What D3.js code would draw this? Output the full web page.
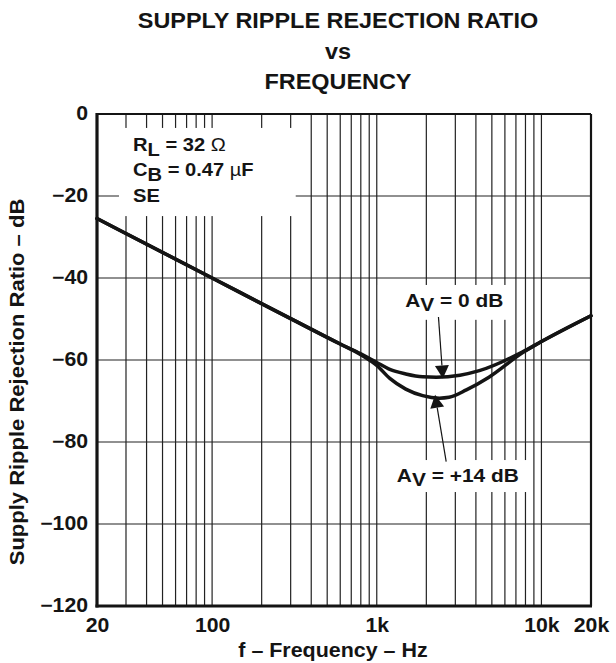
<!DOCTYPE html>
<html>
<head>
<meta charset="utf-8">
<script src="https://cdn.jsdelivr.net/npm/d3@7"></script>
<style>
  body { margin: 0; background: #fff; }
  text { font-family: "Liberation Sans", Arial, Helvetica, sans-serif; font-weight: bold; fill: #141414; }
</style>
</head>
<body>
<svg id="chart" width="616" height="663"></svg>
<script>
// Shared low-frequency part of both curves (Hz, dB)
const freqCommon = [20, 100, 300, 600];
const dbCommon = [-25.5, -40, -49.9, -56.1];

// Av = 0 dB branch
const freqGain0 = [800, 1000, 1200, 1500, 1900, 2300, 3200, 4200, 7700, 10000, 20000];
const dbGain0 = [-58.5, -60.6, -62.3, -63.4, -64.1, -64.2, -63.7, -62.6, -58.0, -55.5, -49.2];

// Av = +14 dB branch
const freqGain14 = [800, 1000, 1200, 1500, 1900, 2400, 2750, 3500, 4800, 7700, 10000, 20000];
const dbGain14 = [-58.7, -61.3, -64.5, -67.1, -68.7, -69.3, -69.1, -67.3, -64.2, -58.2, -55.5, -49.2];

const xTickValues = [20, 100, 1000, 10000, 20000];
const xTickLabels = ["20", "100", "1k", "10k", "20k"];
const yTickValues = [0, -20, -40, -60, -80, -100, -120];

const svg = d3.select("#chart");
const plotLeft = 97, plotRight = 591, plotTop = 114, plotBottom = 606;
const textStretch = 1.1;
const ink = "#141414";

const x = d3.scaleLog().domain([20, 20000]).range([plotLeft, plotRight]);
const y = d3.scaleLinear().domain([0, -120]).range([plotTop, plotBottom]);

// Widen lettering horizontally around each text's anchor point
function widen(sel) {
  sel.each(function () {
    const ax = +(this.getAttribute("x") || 0);
    d3.select(this).attr("transform", `translate(${ax},0) scale(${textStretch},1) translate(${-ax},0)`);
  });
}

// Title
const title = svg.append("g").attr("text-anchor", "middle").style("font-size", "21.3px");
title.append("text").attr("x", 338).attr("y", 28).text("SUPPLY RIPPLE REJECTION RATIO");
title.append("text").attr("x", 338).attr("y", 59).text("vs");
title.append("text").attr("x", 338).attr("y", 89).text("FREQUENCY");
widen(title.selectAll("text"));

// Grid: every log minor line and each 20 dB step
const gridX = x.ticks(30).filter(d => d > 20 && d < 20000);
const grid = svg.append("g").attr("stroke", "#222").attr("stroke-width", 1.2);
grid.selectAll("line.v").data(gridX).join("line")
  .attr("x1", d => x(d)).attr("x2", d => x(d))
  .attr("y1", plotTop).attr("y2", plotBottom);
grid.selectAll("line.h").data(yTickValues.filter(d => d < 0 && d > -120)).join("line")
  .attr("x1", plotLeft).attr("x2", plotRight)
  .attr("y1", d => y(d)).attr("y2", d => y(d));

// White panels behind the annotations
const panels = [
  { f0: 27.2, f1: 322, d0: -3.4, d1: -24.9 },
  { f0: 1016, f1: 6730, d0: -41.7, d1: -50.2 },
  { f0: 1016, f1: 8500, d0: -84.4, d1: -92.2 }
];
svg.append("g").selectAll("rect").data(panels).join("rect")
  .attr("x", d => x(d.f0)).attr("y", d => y(d.d0))
  .attr("width", d => x(d.f1) - x(d.f0)).attr("height", d => y(d.d1) - y(d.d0))
  .attr("fill", "#fff");

// Frame
const frame = svg.append("g").attr("stroke", ink).attr("fill", "none");
frame.append("line").attr("x1", plotLeft).attr("x2", plotRight).attr("y1", plotTop).attr("y2", plotTop).attr("stroke-width", 2.2);
frame.append("line").attr("x1", plotRight).attr("x2", plotRight).attr("y1", plotTop).attr("y2", plotBottom).attr("stroke-width", 2.2);
frame.append("line").attr("x1", plotLeft).attr("x2", plotLeft).attr("y1", plotTop - 1).attr("y2", plotBottom + 1.5).attr("stroke-width", 3.2);
frame.append("line").attr("x1", plotLeft - 1.5).attr("x2", plotRight + 1).attr("y1", plotBottom).attr("y2", plotBottom).attr("stroke-width", 3.2);

// Curves
const line = d3.line().x(d => x(d[0])).y(d => y(d[1])).curve(d3.curveMonotoneX);
const common = freqCommon.map((f, i) => [f, dbCommon[i]]);
const gain0 = common.concat(freqGain0.map((f, i) => [f, dbGain0[i]]));
const gain14 = common.concat(freqGain14.map((f, i) => [f, dbGain14[i]]));
svg.append("g").attr("fill", "none").attr("stroke", ink).attr("stroke-width", 3.5)
  .attr("stroke-linejoin", "round").attr("stroke-linecap", "round")
  .selectAll("path").data([gain0, gain14]).join("path").attr("d", line);

// Axes
const xAxis = svg.append("g").attr("transform", `translate(0,${plotBottom})`)
  .call(d3.axisBottom(x).tickValues(xTickValues).tickFormat((d, i) => xTickLabels[i]).tickSize(0).tickPadding(12));
const yAxis = svg.append("g").attr("transform", `translate(${plotLeft},0)`)
  .call(d3.axisLeft(y).tickValues(yTickValues).tickFormat(d => d === 0 ? "0" : "\u2212" + Math.abs(d)).tickSize(0).tickPadding(9));
[xAxis, yAxis].forEach(a => {
  a.select(".domain").remove();
  a.selectAll("text").style("font-size", "19.3px").attr("fill", ink)
    .style("font-family", "'Liberation Sans', Arial, sans-serif").style("font-weight", "bold");
  widen(a.selectAll("text"));
});
yAxis.selectAll("text").attr("dy", "0.28em");

// Axis titles
const xTitle = svg.append("text").attr("x", 333).attr("y", 657).attr("text-anchor", "middle")
  .style("font-size", "19.5px").text("f \u2013 Frequency \u2013 Hz");
widen(xTitle);
svg.append("text").attr("transform", `translate(24,382) rotate(-90) scale(${textStretch},1)`).attr("text-anchor", "middle")
  .style("font-size", "20px").text("Supply Ripple Rejection Ratio \u2013 dB");

// Condition legend
const legend = svg.append("g").style("font-size", "18.3px");
const l1 = legend.append("text").attr("x", x(33.1)).attr("y", y(-8.95));
l1.append("tspan").text("R");
l1.append("tspan").attr("dy", 5).text("L");
l1.append("tspan").attr("dy", -5).text(" = 32 ");
l1.append("tspan").style("font-weight", "normal").text("\u03A9");
const l2 = legend.append("text").attr("x", x(33.1)).attr("y", y(-15.15));
l2.append("tspan").text("C");
l2.append("tspan").attr("dy", 5).text("B");
l2.append("tspan").attr("dy", -5).text(" = 0.47 ");
l2.append("tspan").style("font-weight", "normal").text("\u00B5");
l2.append("tspan").text("F");
legend.append("text").attr("x", x(33.1)).attr("y", y(-21.35)).text("SE");
widen(legend.selectAll("text"));

// Curve labels
function gainLabel(f, db, txt) {
  const t = svg.append("text").attr("x", x(f)).attr("y", y(db)).style("font-size", "19px");
  t.append("tspan").text("A");
  t.append("tspan").attr("dy", 4).text("V");
  t.append("tspan").attr("dy", -4).text(txt);
  widen(t);
}
gainLabel(1490, -47.1, " = 0 dB");
gainLabel(1324, -89.7, " = +14 dB");

// Arrows pointing at each curve
const arrows = [
  { from: [2370, -49.5], to: [2520, -64.5] },
  { from: [2640, -84.8], to: [2260, -68.5] }
];
const ag = svg.append("g");
arrows.forEach(a => {
  const x0 = x(a.from[0]), y0 = y(a.from[1]), x1 = x(a.to[0]), y1 = y(a.to[1]);
  const ang = Math.atan2(y1 - y0, x1 - x0);
  const len = 13, hw = 7;
  const bx = x1 - len * Math.cos(ang), by = y1 - len * Math.sin(ang);
  ag.append("line").attr("x1", x0).attr("y1", y0).attr("x2", bx).attr("y2", by)
    .attr("stroke", ink).attr("stroke-width", 1.2);
  const px = -Math.sin(ang) * hw, py = Math.cos(ang) * hw;
  ag.append("polygon")
    .attr("points", [[x1, y1], [bx + px, by + py], [bx - px, by - py]].map(p => p.join(",")).join(" "))
    .attr("fill", ink);
});
</script>
</body>
</html>
